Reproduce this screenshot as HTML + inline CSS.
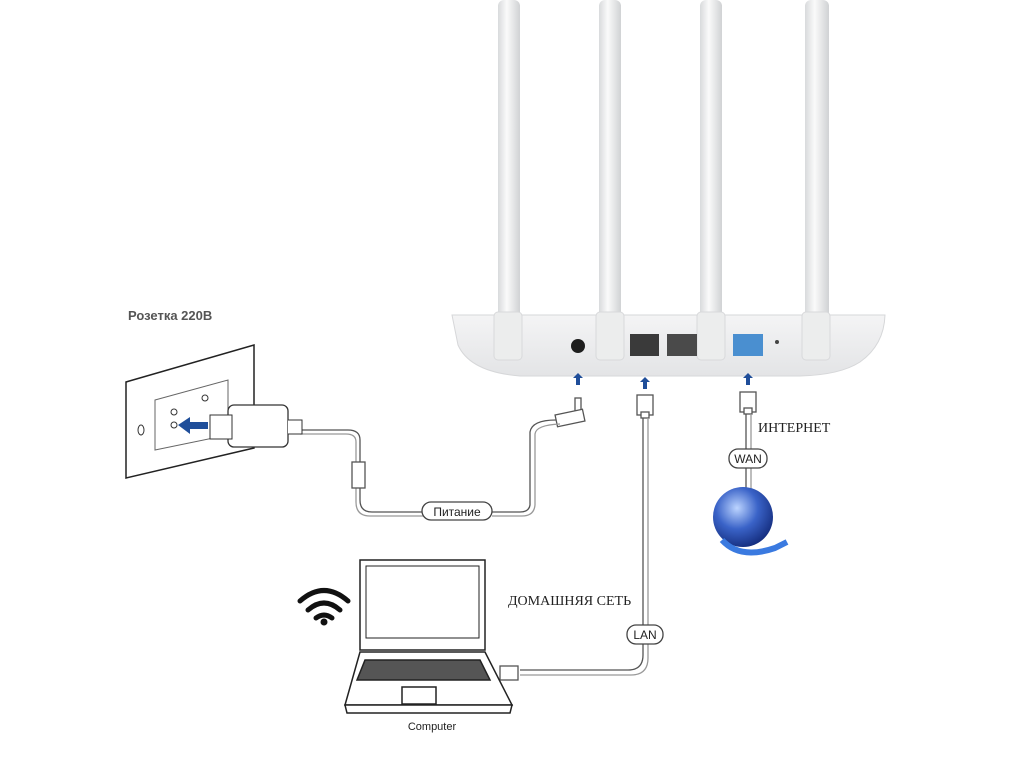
<!DOCTYPE html>
<html><head><meta charset="utf-8"><style>body{margin:0;background:#fff}svg{display:block}</style></head><body>
<svg width="1024" height="768" viewBox="0 0 1024 768" xmlns="http://www.w3.org/2000/svg" font-family="Liberation Sans, sans-serif">
<defs>
<linearGradient id="ant" x1="0" x2="1"><stop offset="0" stop-color="#d8dadc"/><stop offset=".4" stop-color="#fafafa"/><stop offset="1" stop-color="#d0d2d4"/></linearGradient>
<linearGradient id="body" x1="0" y1="0" x2="0" y2="1"><stop offset="0" stop-color="#f4f4f5"/><stop offset="1" stop-color="#e3e4e6"/></linearGradient>
<radialGradient id="glb" cx=".4" cy=".35" r=".7"><stop offset="0" stop-color="#bcd4ff"/><stop offset=".5" stop-color="#3a63c8"/><stop offset="1" stop-color="#122a7a"/></radialGradient>
</defs>
<!-- antennas -->
<g fill="url(#ant)">
<rect x="498" y="0" width="22" height="330" rx="6"/>
<rect x="599" y="0" width="22" height="330" rx="6"/>
<rect x="700" y="0" width="22" height="330" rx="6"/>
<rect x="805" y="0" width="24" height="330" rx="6"/>
</g>
<!-- router body -->
<path d="M452 315 L885 315 Q884 345 860 362 Q840 375 800 376 L520 376 Q470 372 458 345 Z" fill="url(#body)" stroke="#d6d7d9"/>
<g fill="#eceded" stroke="#d8d9db"><rect x="494" y="312" width="28" height="48" rx="4"/><rect x="596" y="312" width="28" height="48" rx="4"/><rect x="697" y="312" width="28" height="48" rx="4"/><rect x="802" y="312" width="28" height="48" rx="4"/></g>
<circle cx="578" cy="346" r="7" fill="#1e1e1e"/>
<rect x="630" y="334" width="29" height="22" fill="#3a3a3a"/>
<rect x="667" y="334" width="30" height="22" fill="#4a4a4a"/>
<rect x="733" y="334" width="30" height="22" fill="#4a8fd0"/>
<circle cx="777" cy="342" r="2" fill="#444"/>
<!-- blue arrows -->
<g fill="#1f4e9a">
<path d="M578 373 l-5 5 h3 v7 h4 v-7 h3z"/>
<path d="M645 377 l-5 5 h3 v7 h4 v-7 h3z"/>
<path d="M748 373 l-5 5 h3 v7 h4 v-7 h3z"/>
</g>
<!-- power plug & cable -->
<g fill="none" stroke="#555" stroke-width="1.3">
<rect x="575" y="398" width="6" height="14" fill="#fff"/>
<rect x="556" y="412" width="28" height="12" fill="#fff" transform="rotate(-12 570 418)"/>
<path d="M556 420 Q532 420 530 432 L530 505 Q529 512 520 512 L492 512"/>
<path d="M560 424 Q536 425 535 434 L535 505 Q534 516 522 516 L492 516" stroke="#999"/>
<path d="M424 512 L372 512 Q360 512 360 500 L360 440 Q360 430 348 430 L300 430"/>
<path d="M424 516 L370 516 Q356 516 356 502 L356 442 Q356 434 346 434 L300 434" stroke="#999"/>
<rect x="352" y="462" width="13" height="26" fill="#fff"/>
</g>
<rect x="422" y="502" width="70" height="18" rx="9" fill="#fff" stroke="#444" stroke-width="1.3"/>
<text x="457" y="516" font-size="12" text-anchor="middle" fill="#222">Питание</text>
<!-- wall socket -->
<text x="128" y="320" font-size="13" font-weight="bold" fill="#555">Розетка 220В</text>
<path d="M126 382 L254 345 L254 448 L126 478 Z" fill="#fff" stroke="#222" stroke-width="1.5"/>
<path d="M155 400 L228 380 L228 435 L155 450 Z" fill="#fff" stroke="#666"/>
<ellipse cx="141" cy="430" rx="3" ry="5" fill="none" stroke="#333"/>
<g fill="none" stroke="#333"><ellipse cx="174" cy="412" rx="3" ry="3"/><ellipse cx="205" cy="398" rx="3" ry="3"/><ellipse cx="174" cy="425" rx="3" ry="3"/></g>
<rect x="228" y="405" width="60" height="42" rx="6" fill="#fff" stroke="#333" stroke-width="1.3"/>
<rect x="210" y="415" width="22" height="24" fill="#fff" stroke="#333"/>
<path d="M288 420 h14 v14 h-14" fill="#fff" stroke="#333"/>
<path d="M178 425 l12 -8 v5 h18 v7 h-18 v5z" fill="#1f4e9a"/>
<!-- LAN -->
<g fill="none" stroke="#555" stroke-width="1.3">
<rect x="637" y="395" width="16" height="20" fill="#fff"/>
<rect x="641" y="412" width="8" height="6" fill="#fff"/>
<path d="M643 418 L643 655 Q643 670 628 670 L520 670"/>
<path d="M648 418 L648 658 Q648 675 631 675 L520 675" stroke="#999"/>
<rect x="500" y="666" width="18" height="14" fill="#fff"/>
</g>
<rect x="627" y="625" width="36" height="19" rx="9" fill="#fff" stroke="#444" stroke-width="1.3"/>
<text x="645" y="639" font-size="12" text-anchor="middle" fill="#222">LAN</text>
<text x="508" y="605" font-size="14" font-family="Liberation Serif, serif" fill="#222">ДОМАШНЯЯ СЕТЬ</text>
<!-- WAN -->
<g fill="none" stroke="#555" stroke-width="1.3">
<rect x="740" y="392" width="16" height="20" fill="#fff"/>
<rect x="744" y="408" width="8" height="6" fill="#fff"/>
<path d="M746 414 L746 495"/><path d="M751 414 L751 495" stroke="#999"/>
</g>
<rect x="729" y="449" width="38" height="19" rx="9" fill="#fff" stroke="#444" stroke-width="1.3"/>
<text x="748" y="463" font-size="12" text-anchor="middle" fill="#222">WAN</text>
<text x="758" y="432" font-size="14" font-family="Liberation Serif, serif" fill="#222">ИНТЕРНЕТ</text>
<circle cx="743" cy="517" r="30" fill="url(#glb)"/>
<path d="M722 540 Q740 560 775 548 l12 -6" fill="none" stroke="#3a7ae0" stroke-width="6"/>
<!-- wifi -->
<g fill="none" stroke="#111" stroke-width="5" stroke-linecap="round">
<path d="M300 601 Q324 580 348 601"/><path d="M308 610 Q324 596 340 610"/><path d="M316 618 Q324 612 332 618"/>
</g>
<circle cx="324" cy="622" r="3.5" fill="#111"/>
<!-- laptop -->
<g fill="#fff" stroke="#222" stroke-width="1.5">
<rect x="360" y="560" width="125" height="90"/>
<rect x="366" y="566" width="113" height="72" stroke-width="1"/>
<path d="M360 652 L485 652 L512 705 L345 705 Z"/>
<path d="M345 705 L512 705 L510 713 L347 713 Z"/>
<path d="M365 660 L480 660 L490 680 L357 680 Z" fill="#555"/>
<rect x="402" y="687" width="34" height="17"/>
</g>
<text x="432" y="730" font-size="11" text-anchor="middle" fill="#222">Computer</text>
</svg>
</body></html>
